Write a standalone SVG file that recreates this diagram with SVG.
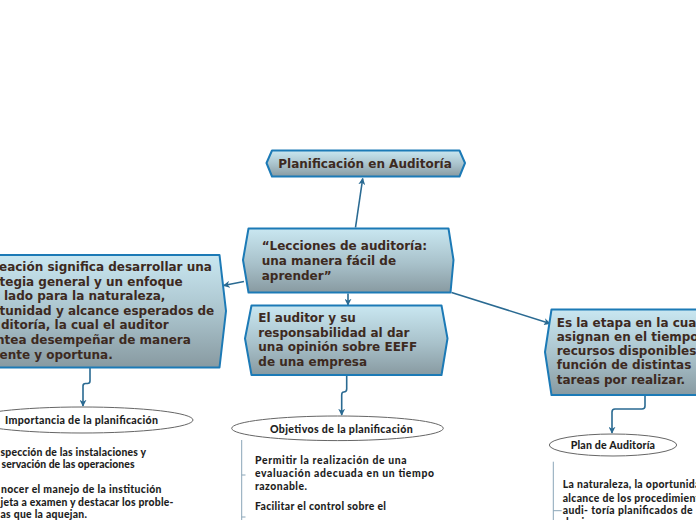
<svg xmlns="http://www.w3.org/2000/svg" width="696" height="520" viewBox="0 0 696 520">
<defs>
<linearGradient id="nodeGrad" x1="0" y1="0" x2="0" y2="1">
<stop offset="0" stop-color="#c9e7f1"/>
<stop offset="0.55" stop-color="#a8c1ca"/>
<stop offset="1" stop-color="#889aa1"/>
</linearGradient>
<marker id="arr" viewBox="0 0 10 10" refX="9" refY="5" markerWidth="7" markerHeight="7" orient="auto" markerUnits="userSpaceOnUse">
<path d="M0,0 L10,5 L0,10 L3,5 z" fill="#2a6a92"/>
</marker>
<style>
.node{fill:url(#nodeGrad);stroke:#1c7ab6;stroke-width:2;stroke-linejoin:round}
.nt{font-family:"DejaVu Sans",Verdana,sans-serif;font-weight:bold;font-size:12px;fill:#3d2a1f}
.conn{fill:none;stroke:#2a6a92;stroke-width:1.6}
.ell{fill:#ffffff;stroke:#666666;stroke-width:1}
.et{font-family:Lato,"Open Sans",sans-serif;font-weight:900;font-size:10.6px;fill:#1e1e1e}
.lt{font-family:Lato,"Open Sans",sans-serif;font-weight:900;font-size:10.4px;fill:#1e1e1e}
.bar{fill:none;stroke:#8aa6b8;stroke-width:1}
</style>
</defs>
<rect width="696" height="520" fill="#ffffff"/>

<g id="connectors">
<path class="conn" d="M355.5,227.5 L362.7,178.5" marker-end="url(#arr)"/>
<path class="conn" d="M244,281.5 L223.5,285.5" marker-end="url(#arr)"/>
<path class="conn" d="M348,293.5 L348,305" marker-end="url(#arr)"/>
<path class="conn" d="M451.5,292.5 L550,323.5" marker-end="url(#arr)"/>
<path class="conn" d="M90,368 V381 Q90,383.5 87.5,383.5 H85.5 Q83,383.5 83,386 V406" marker-end="url(#arr)"/>
<path class="conn" d="M346.7,376 V389 Q346.7,392 343.7,392 Q341.7,392 341.7,395 V415" marker-end="url(#arr)"/>
<path class="conn" d="M645,396 V406 Q645,409 642,409 H615 Q612,409 612,412 V433" marker-end="url(#arr)"/>
</g>

<g id="node-top">
<polygon class="node" points="266.5,163 272,150.5 459.5,150.5 465,163 459.5,176.5 272,176.5"/>
<text class="nt" x="278.3" y="167.5">Planificación en Auditoría</text>
</g>

<g id="node-center">
<polygon class="node" points="243,260 248.5,228.5 448.5,228.5 453.5,260 450.5,292.5 248.5,292.5"/>
<text class="nt" x="261.7" y="249.5">“Lecciones de auditoría:</text>
<text class="nt" x="261.7" y="264.5">una manera fácil de</text>
<text class="nt" x="261.7" y="279.5">aprender”</text>
</g>

<g id="node-left">
<polygon class="node" points="-10,255 219.5,255 226,311 219.5,367.5 -10,367.5"/>
<text class="nt" x="-1" y="271">eación significa desarrollar una</text>
<text class="nt" x="-0.5" y="285.6">tegia general y un enfoque</text>
<text class="nt" x="4" y="300.2">lado para la naturaleza,</text>
<text class="nt" x="-0.5" y="314.8">tunidad y alcance esperados de</text>
<text class="nt" x="1" y="329.4">ditoría, la cual el auditor</text>
<text class="nt" x="-4" y="344">ntea desempeñar de manera</text>
<text class="nt" x="-0.5" y="358.6">ente y oportuna.</text>
</g>

<g id="node-auditor">
<polygon class="node" points="245,338.5 251.5,305.5 441.5,305.5 447.5,338.5 441.5,375 251.5,375"/>
<text class="nt" x="258.3" y="322">El auditor y su</text>
<text class="nt" x="258.3" y="336.7">responsabilidad al dar</text>
<text class="nt" x="258.3" y="351.4">una opinión sobre EEFF</text>
<text class="nt" x="258.3" y="366.1">de una empresa</text>
</g>

<g id="node-right">
<polygon class="node" points="545,352 551.5,309.5 705,309.5 705,395 551.5,395"/>
<text class="nt" x="556.7" y="326.7">Es la etapa en la cual</text>
<text class="nt" x="556.7" y="340.9">asignan en el tiempo</text>
<text class="nt" x="556.7" y="355.1">recursos disponibles</text>
<text class="nt" x="556.7" y="369.3">función de distintas</text>
<text class="nt" x="556.7" y="383.5">tareas por realizar.</text>
</g>

<g id="node-importancia">
<ellipse class="ell" cx="82" cy="420" rx="111" ry="13"/>
<text class="et" x="5" y="424" textLength="153" lengthAdjust="spacing">Importancia de la planificación</text>
</g>

<g id="list-importancia">
<text class="lt" x="0.5" y="456" textLength="145.5" lengthAdjust="spacing">spección de las instalaciones y</text>
<text class="lt" x="1.5" y="468.3" textLength="133" lengthAdjust="spacing">servación de las operaciones</text>
<text class="lt" x="1" y="493.3" textLength="160.5" lengthAdjust="spacing">nocer el manejo de la institución</text>
<text class="lt" x="0.5" y="505.8" textLength="173" lengthAdjust="spacing">jeta a examen y destacar los proble-</text>
<text class="lt" x="0.5" y="517.8" textLength="86.5" lengthAdjust="spacing">as que la aquejan.</text>
</g>

<g id="node-objetivos">
<ellipse class="ell" cx="337.5" cy="428.3" rx="105.8" ry="12.3"/>
<text class="et" x="270" y="432.7" textLength="142.7" lengthAdjust="spacing">Objetivos de la planificación</text>
</g>

<g id="list-objetivos">
<path class="bar" d="M241.7,440 V520 M241.7,475 H245.5 M241.7,517 H245.5"/>
<text class="lt" x="255" y="464" textLength="151.7" lengthAdjust="spacing">Permitir la realización de una</text>
<text class="lt" x="255" y="477.3" textLength="179" lengthAdjust="spacing">evaluación adecuada en un tiempo</text>
<text class="lt" x="255" y="489.5" textLength="52" lengthAdjust="spacing">razonable.</text>
<text class="lt" x="255" y="510" textLength="131" lengthAdjust="spacing">Facilitar el control sobre el</text>
</g>

<g id="node-plan">
<ellipse class="ell" cx="613" cy="445" rx="63.7" ry="11"/>
<text class="et" x="570.7" y="448.5" textLength="84.3" lengthAdjust="spacing">Plan de Auditoría</text>
</g>

<g id="list-plan">
<path class="bar" d="M553.3,461.7 V520 M553.3,510.7 H561.7"/>
<text class="lt" x="562.7" y="488.3" textLength="144" lengthAdjust="spacing">La naturaleza, la oportunidad</text>
<text class="lt" x="562.7" y="501.7" textLength="148" lengthAdjust="spacing">alcance de los procedimientos</text>
<text class="lt" x="562.7" y="513.5" textLength="130" lengthAdjust="spacing">audi- toría planificados de</text>
<text class="lt" x="562.7" y="525.5" textLength="44" lengthAdjust="spacing">de riesgo</text>
</g>
</svg>
